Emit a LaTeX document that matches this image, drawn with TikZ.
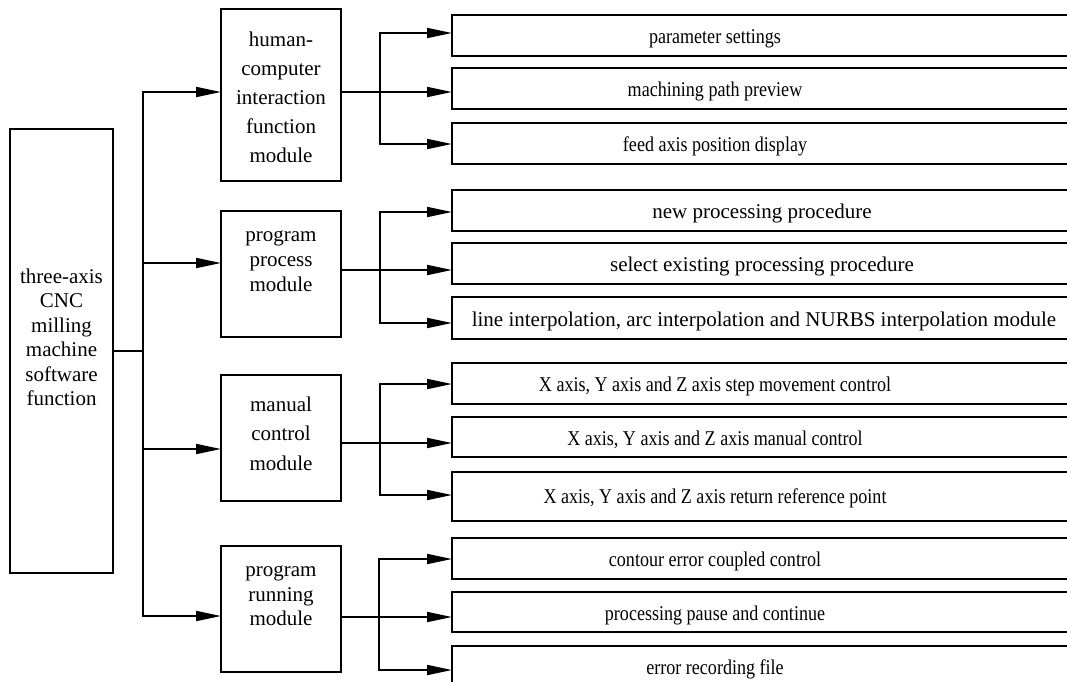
\documentclass[tikz,border=0pt]{standalone}
\usepackage{fontspec}
\setmainfont{Liberation Serif}
\usetikzlibrary{arrows.meta}
\newcommand{\cnd}[1]{\scalebox{0.86}[1]{#1}}
\begin{document}
\begin{tikzpicture}[x=1pt,y=-1pt,
  box/.style={draw, line width=1.8pt, inner sep=0pt, outer sep=0pt, rectangle, anchor=north west},
  lbl/.style={inner sep=0pt, align=center},
  sublbl/.style={inner sep=0pt, anchor=base, font=\fontsize{21}{25}\selectfont},
  conn/.style={line width=1.8pt},
  arr/.style={line width=1.8pt, -{Triangle[length=25pt,width=10pt]}}]
\useasboundingbox (0,0) rectangle (1067,681);
\clip (0,0) rectangle (1067,681);
\fill[white] (0,0) rectangle (1067,681);

% main box
\node[box, minimum width=103, minimum height=444] (main) at (10,129) {};
\node[lbl, font=\fontsize{21}{24.5}\selectfont] (maint) at (61.5,337.5) {three-axis\\CNC\\milling\\machine\\software\\function};

% modules
\node[box, minimum width=120, minimum height=172] (hci) at (221,9) {};
\node[box, minimum width=120, minimum height=126] (pp) at (221,211) {};
\node[box, minimum width=120, minimum height=126] (mc) at (221,375) {};
\node[box, minimum width=120, minimum height=126] (pr) at (221,546) {};
\node[lbl, font=\fontsize{21}{29}\selectfont] (hcit) at (281,97) {human-\\computer\\interaction\\function\\module};
\node[lbl, font=\fontsize{21}{25}\selectfont] (ppt) at (281,261.5) {program\\process\\module};
\node[lbl, font=\fontsize{21}{29.5}\selectfont] (mct) at (281,433.5) {manual\\control\\module};
\node[lbl, font=\fontsize{21}{24.5}\selectfont] (prt) at (281,596) {program\\running\\module};

% trunk
\coordinate (tj) at (143,351);
\coordinate (t1) at (143,92);
\coordinate (t2) at (143,263);
\coordinate (t3) at (143,449);
\coordinate (t4) at (143,616);
\draw[conn] (main.east) -- (main.east -| tj);
\draw[arr] (tj) -- (t1) -- (t1 -| hci.west);
\draw[arr] (tj) -- (t4) -- (t4 -| pr.west);
\draw[arr] (t2) -- (t2 -| pp.west);
\draw[arr] (t3) -- (t3 -| mc.west);

% sub boxes
\node[box, minimum width=628, minimum height=41] (h1) at (452,15) {};
\node[box, minimum width=628, minimum height=41] (h2) at (452,68) {};
\node[box, minimum width=628, minimum height=41] (h3) at (452,123) {};
\node[box, minimum width=628, minimum height=41] (p1) at (452,190) {};
\node[box, minimum width=628, minimum height=41] (p2) at (452,243) {};
\node[box, minimum width=628, minimum height=42] (p3) at (452,297) {};
\node[box, minimum width=628, minimum height=41] (m1) at (452,363) {};
\node[box, minimum width=628, minimum height=40] (m2) at (452,417) {};
\node[box, minimum width=628, minimum height=49] (m3) at (452,472) {};
\node[box, minimum width=628, minimum height=41] (r1) at (452,538) {};
\node[box, minimum width=628, minimum height=40] (r2) at (452,592) {};
\node[box, minimum width=628, minimum height=41] (r3) at (452,646) {};

% sub texts
\node[sublbl] (h1t) at (715,43.5) {\cnd{parameter settings}};
\node[sublbl] (h2t) at (715,96.5) {\cnd{machining path preview}};
\node[sublbl] (h3t) at (715,151.5) {\cnd{feed axis position display}};
\node[sublbl] (p1t) at (762,218.5) {new processing procedure};
\node[sublbl] (p2t) at (762,271.5) {select existing processing procedure};
\node[sublbl] (p3t) at (764,326) {line interpolation, arc interpolation and NURBS interpolation module};
\node[sublbl] (m1t) at (715,391.5) {\cnd{X axis, Y axis and Z axis step movement control}};
\node[sublbl] (m2t) at (715,445) {\cnd{X axis, Y axis and Z axis manual control}};
\node[sublbl] (m3t) at (715,503.5) {\cnd{X axis, Y axis and Z axis return reference point}};
\node[sublbl] (r1t) at (715,566) {\cnd{contour error coupled control}};
\node[sublbl] (r2t) at (715,620) {\cnd{processing pause and continue}};
\node[sublbl] (r3t) at (715,674) {\cnd{error recording file}};

% branches: human-computer
\coordinate (hb1) at (380,33);
\coordinate (hb2) at (380,92);
\coordinate (hb3) at (380,144);
\draw[arr] (hci.east |- hb2) -- (hb2 -| h2.west);
\draw[arr] (hb2) -- (hb1) -- (hb1 -| h1.west);
\draw[arr] (hb2) -- (hb3) -- (hb3 -| h3.west);

% branches: program process
\coordinate (pb1) at (380,212);
\coordinate (pb2) at (380,270);
\coordinate (pb3) at (380,323);
\draw[arr] (pp.east |- pb2) -- (pb2 -| p2.west);
\draw[arr] (pb2) -- (pb1) -- (pb1 -| p1.west);
\draw[arr] (pb2) -- (pb3) -- (pb3 -| p3.west);

% branches: manual control
\coordinate (mb1) at (380,384);
\coordinate (mb2) at (380,443);
\coordinate (mb3) at (380,495);
\draw[arr] (mc.east |- mb2) -- (mb2 -| m2.west);
\draw[arr] (mb2) -- (mb1) -- (mb1 -| m1.west);
\draw[arr] (mb2) -- (mb3) -- (mb3 -| m3.west);

% branches: program running
\coordinate (rb1) at (379,559);
\coordinate (rb2) at (379,617);
\coordinate (rb3) at (379,670);
\draw[arr] (pr.east |- rb2) -- (rb2 -| r2.west);
\draw[arr] (rb2) -- (rb1) -- (rb1 -| r1.west);
\draw[arr] (rb2) -- (rb3) -- (rb3 -| r3.west);
\end{tikzpicture}
\end{document}
